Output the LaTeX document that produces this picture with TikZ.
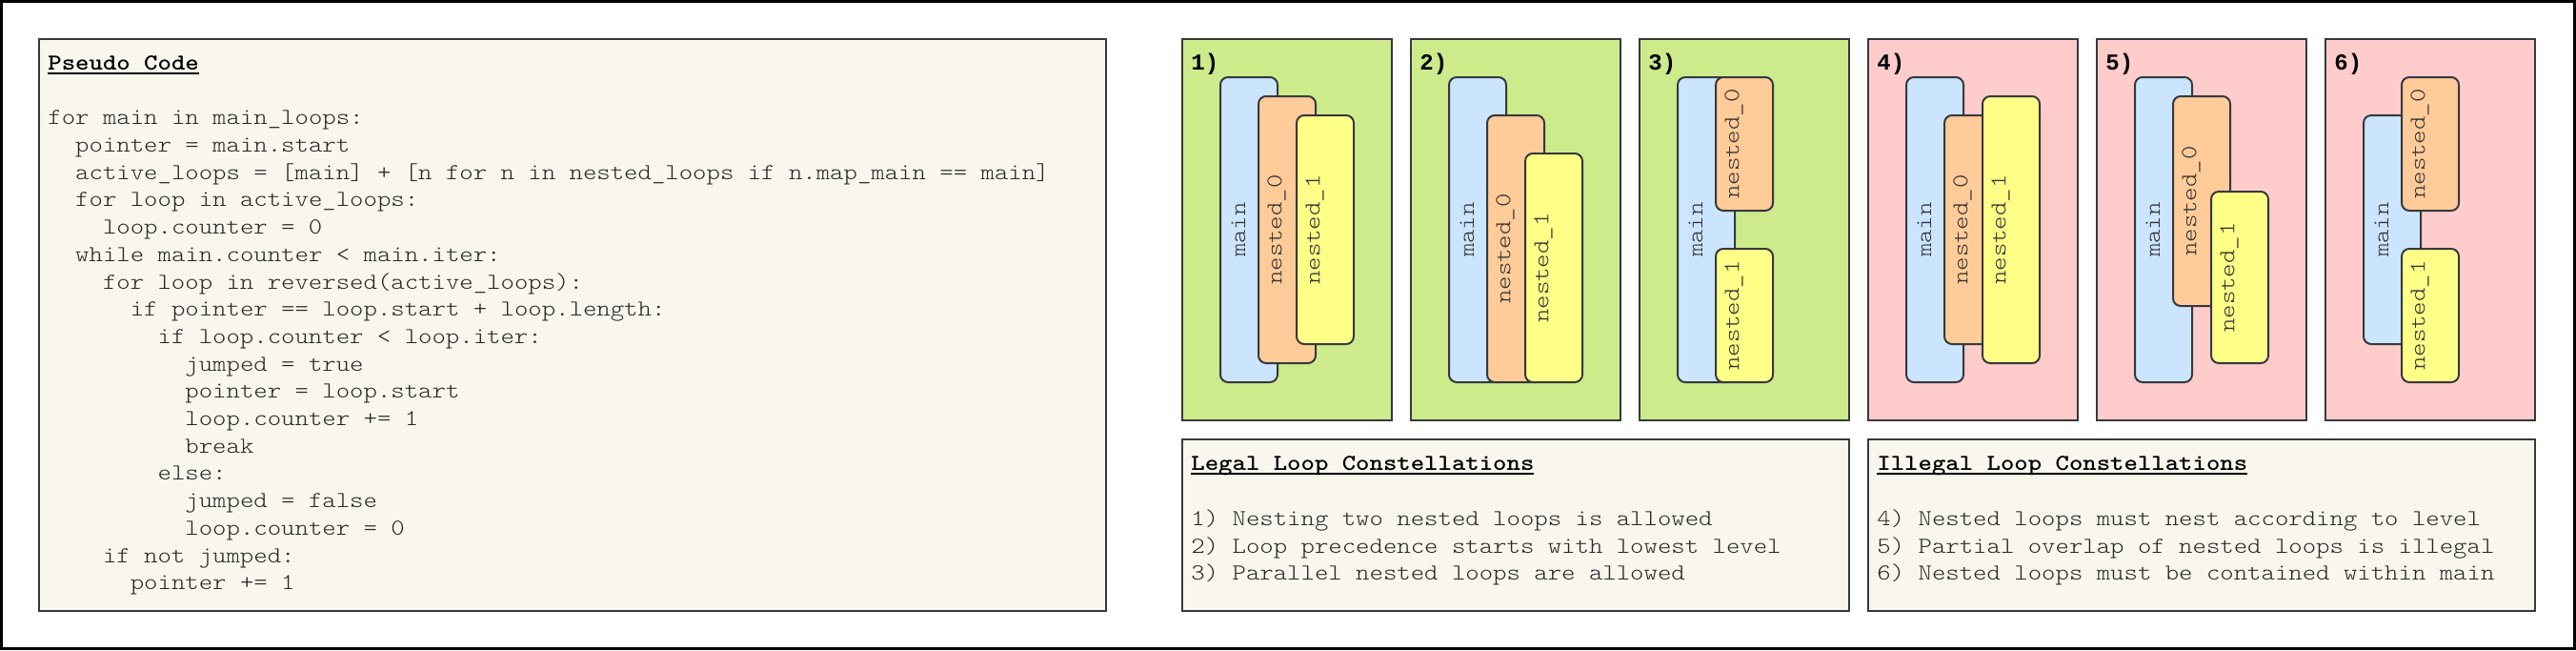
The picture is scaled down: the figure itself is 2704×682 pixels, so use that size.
\documentclass[tikz,border=0pt]{standalone}
\usepackage{fontspec}
\setmonofont{Liberation Mono}
\newfontfamily\codefont{lmmonolt10-regular}[Extension=.otf,FakeStretch=1.1429,BoldFont=lmmonolt10-bold]

\definecolor{stroke}{HTML}{36393D}
\definecolor{notefill}{HTML}{F9F7ED}
\definecolor{legalfill}{HTML}{CDEB8B}
\definecolor{illegalfill}{HTML}{FFCCCC}
\definecolor{mainfill}{HTML}{CCE5FF}
\definecolor{nestzerofill}{HTML}{FFCC99}
\definecolor{nestonefill}{HTML}{FFFF88}

\newsavebox\headbox
\newcommand\headline[1]{\sbox\headbox{#1}\rlap{\rule[-2.2pt]{\wd\headbox}{1pt}}\usebox\headbox}
\newcommand\ind{\hspace*{1.2em}}

\begin{document}
\begin{tikzpicture}[x=0.5pt,y=-0.5pt,
    panel/.style={draw=stroke,line width=1pt},
    legal/.style={panel,fill=legalfill},
    illegal/.style={panel,fill=illegalfill},
    note/.style={panel,fill=notefill},
    loopbox/.style={draw=stroke,line width=1pt,rounded corners=4pt},
    mainloop/.style={loopbox,fill=mainfill},
    nestzero/.style={loopbox,fill=nestzerofill},
    nestone/.style={loopbox,fill=nestonefill},
    looplabel/.style={rotate=90,inner sep=0,text=black!80,font=\codefont\fontsize{12}{14.35}\selectfont},
    number/.style={anchor=base west,inner sep=0,font=\ttfamily\bfseries\fontsize{12}{14.35}\selectfont},
    heading/.style={anchor=base west,inner sep=0,font=\codefont\bfseries\fontsize{12}{14.35}\selectfont},
    listing/.style={anchor=north west,inner sep=0,align=left,text=black!85,font=\codefont\fontsize{12}{14.35}\selectfont}]

    \useasboundingbox (0,0) rectangle (2704,682);
    \draw[line width=1.5pt] (1.5,1.5) rectangle (2702.5,680.5);

    % pseudo code
    \draw[note] (41,41) rectangle (1161,641);
    \node[heading] (codehead) at (50,73.5) {\headline{Pseudo Code}};
    \node[listing] (code) at (50,110.3) {\strut for main in main\_loops:\\
        \ind pointer = main.start\\
        \ind active\_loops = [main] + [n for n in nested\_loops if n.map\_main == main]\\
        \ind for loop in active\_loops:\\
        \ind\ind loop.counter = 0\\
        \ind while main.counter < main.iter:\\
        \ind\ind for loop in reversed(active\_loops):\\
        \ind\ind\ind if pointer == loop.start + loop.length:\\
        \ind\ind\ind\ind if loop.counter < loop.iter:\\
        \ind\ind\ind\ind\ind jumped = true\\
        \ind\ind\ind\ind\ind pointer = loop.start\\
        \ind\ind\ind\ind\ind loop.counter += 1\\
        \ind\ind\ind\ind\ind break\\
        \ind\ind\ind\ind else:\\
        \ind\ind\ind\ind\ind jumped = false\\
        \ind\ind\ind\ind\ind loop.counter = 0\\
        \ind\ind if not jumped:\\
        \ind\ind\ind pointer += 1};

    % legal
    \begin{scope}[shift={(1241,41)}]
        \draw[legal] (0,0) rectangle (220,400);
        \node[number] (num1) at (9,32.5) {1)};
        \draw[mainloop] (40,40) rectangle (100,360);
        \node[looplabel] (main1) at (59,200) {main};
        \draw[nestzero] (80,60) rectangle (140,340);
        \node[looplabel] (nestA1) at (99,200) {nested\_0};
        \draw[nestone] (120,80) rectangle (180,320);
        \node[looplabel] (nestB1) at (139,200) {nested\_1};
    \end{scope}
    \begin{scope}[shift={(1481,41)}]
        \draw[legal] (0,0) rectangle (220,400);
        \node[number] (num2) at (9,32.5) {2)};
        \draw[mainloop] (40,40) rectangle (100,360);
        \node[looplabel] (main2) at (59,200) {main};
        \draw[nestzero] (80,80) rectangle (140,360);
        \node[looplabel] (nestA2) at (99,220) {nested\_0};
        \draw[nestone] (120,120) rectangle (180,360);
        \node[looplabel] (nestB2) at (139,240) {nested\_1};
    \end{scope}
    \begin{scope}[shift={(1721,41)}]
        \draw[legal] (0,0) rectangle (220,400);
        \node[number] (num3) at (9,32.5) {3)};
        \draw[mainloop] (40,40) rectangle (100,360);
        \node[looplabel] (main3) at (59,200) {main};
        \draw[nestzero] (80,40) rectangle (140,180);
        \node[looplabel] (nestA3) at (99,110) {nested\_0};
        \draw[nestone] (80,220) rectangle (140,360);
        \node[looplabel] (nestB3) at (99,290) {nested\_1};
    \end{scope}

    % illegal
    \begin{scope}[shift={(1961,41)}]
        \draw[illegal] (0,0) rectangle (220,400);
        \node[number] (num4) at (9,32.5) {4)};
        \draw[mainloop] (40,40) rectangle (100,360);
        \node[looplabel] (main4) at (59,200) {main};
        \draw[nestzero] (80,80) rectangle (140,320);
        \node[looplabel] (nestA4) at (99,200) {nested\_0};
        \draw[nestone] (120,60) rectangle (180,340);
        \node[looplabel] (nestB4) at (139,200) {nested\_1};
    \end{scope}
    \begin{scope}[shift={(2201,41)}]
        \draw[illegal] (0,0) rectangle (220,400);
        \node[number] (num5) at (9,32.5) {5)};
        \draw[mainloop] (40,40) rectangle (100,360);
        \node[looplabel] (main5) at (59,200) {main};
        \draw[nestzero] (80,60) rectangle (140,280);
        \node[looplabel] (nestA5) at (99,170) {nested\_0};
        \draw[nestone] (120,160) rectangle (180,340);
        \node[looplabel] (nestB5) at (139,250) {nested\_1};
    \end{scope}
    \begin{scope}[shift={(2441,41)}]
        \draw[illegal] (0,0) rectangle (220,400);
        \node[number] (num6) at (9,32.5) {6)};
        \draw[mainloop] (40,80) rectangle (100,320);
        \node[looplabel] (main6) at (59,200) {main};
        \draw[nestzero] (80,40) rectangle (140,180);
        \node[looplabel] (nestA6) at (99,110) {nested\_0};
        \draw[nestone] (80,220) rectangle (140,360);
        \node[looplabel] (nestB6) at (99,290) {nested\_1};
    \end{scope}

    % explanations
    \draw[note] (1241,461) rectangle (1941,641);
    \node[heading] (legalhead) at (1250,493.5) {\headline{Legal Loop Constellations}};
    \node[listing] (legallist) at (1250,530.8) {\strut 1) Nesting two nested loops is allowed\\
        2) Loop precedence starts with lowest level\\
        3) Parallel nested loops are allowed};
    \draw[note] (1961,461) rectangle (2661,641);
    \node[heading] (illegalhead) at (1970,493.5) {\headline{Illegal Loop Constellations}};
    \node[listing] (illegallist) at (1970,530.8) {\strut 4) Nested loops must nest according to level\\
        5) Partial overlap of nested loops is illegal\\
        6) Nested loops must be contained within main};
\end{tikzpicture}
\end{document}
